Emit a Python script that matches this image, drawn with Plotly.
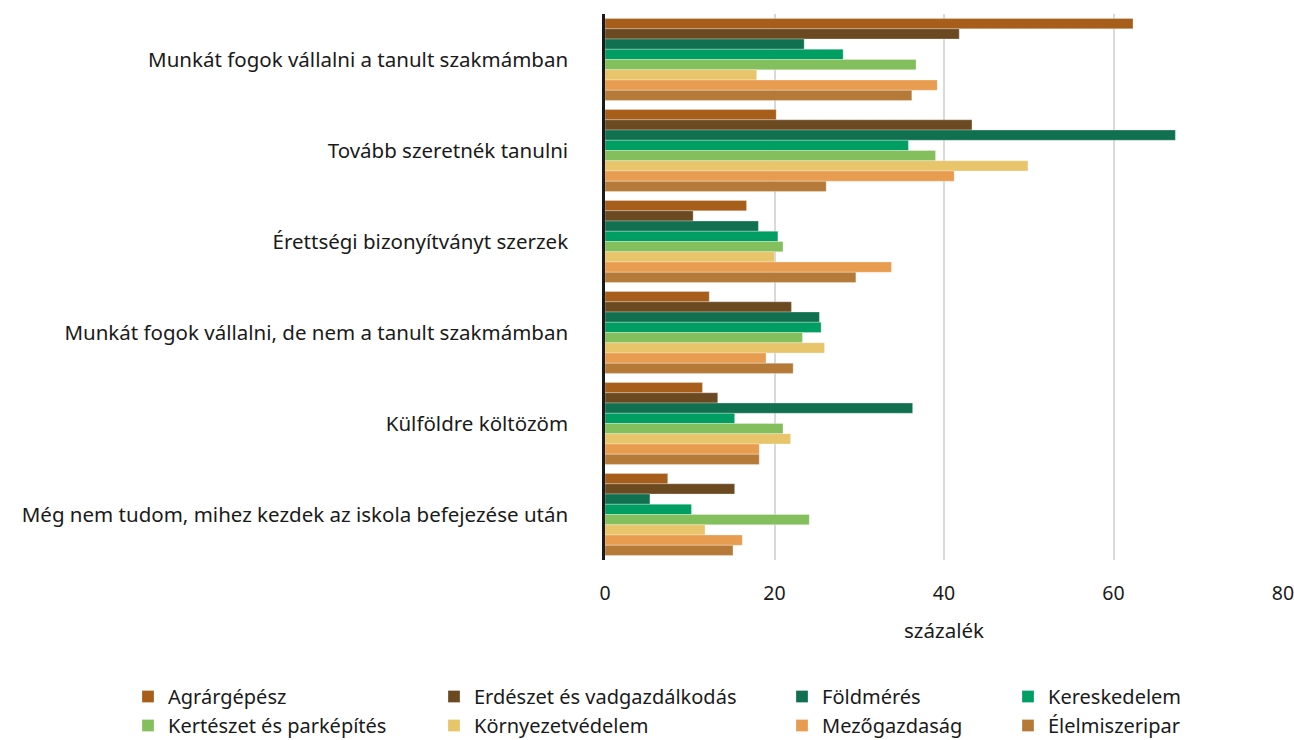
import plotly.graph_objects as go

# Answer categories (top to bottom)
categories = [
    "Munkát fogok vállalni a tanult szakmámban",
    "Tovább szeretnék tanulni",
    "Érettségi bizonyítványt szerzek",
    "Munkát fogok vállalni, de nem a tanult szakmámban",
    "Külföldre költözöm",
    "Még nem tudom, mihez kezdek az iskola befejezése után",
]

# Share of students per training field, percent
agrargepesz = [62.3, 20.2, 16.7, 12.3, 11.5, 7.4]
erdeszet = [41.8, 43.3, 10.4, 22.0, 13.3, 15.3]
foldmeres = [23.5, 67.3, 18.1, 25.3, 36.3, 5.3]
kereskedelem = [28.1, 35.8, 20.4, 25.5, 15.3, 10.2]
kerteszet = [36.7, 39.0, 21.0, 23.3, 21.0, 24.1]
kornyezetvedelem = [17.9, 49.9, 20.0, 25.9, 21.9, 11.8]
mezogazdasag = [39.2, 41.2, 33.8, 19.0, 18.2, 16.2]
elelmiszeripar = [36.2, 26.1, 29.6, 22.2, 18.2, 15.1]

series_names = [
    "Agrárgépész", "Erdészet és vadgazdálkodás", "Földmérés", "Kereskedelem",
    "Kertészet és parképítés", "Környezetvédelem", "Mezőgazdaság", "Élelmiszeripar",
]
series_values = [agrargepesz, erdeszet, foldmeres, kereskedelem,
                 kerteszet, kornyezetvedelem, mezogazdasag, elelmiszeripar]
colors = ["#A65E1A", "#6B4A22", "#117050", "#009E63",
          "#83BF5D", "#E8C46B", "#E89C50", "#B57A38"]

x_ticks = [0, 20, 40, 60, 80]

# legend columns: two entries per column, four columns
legend_ids = ["legend", "legend2", "legend3", "legend4",
              "legend", "legend2", "legend3", "legend4"]

FONT = "Noto Sans"
FS = 20.5
TXT = "#1a1a1a"

fig = go.Figure()
for name, vals, col, lg in zip(series_names, series_values, colors, legend_ids):
    fig.add_trace(go.Bar(
        y=categories, x=vals, name=name, orientation="h",
        marker=dict(color=col, line=dict(color="rgba(255,255,255,0.35)", width=0.8)),
        legend=lg, legendgroup=name,
    ))

L, R, T, B = 605, 11, 14, 180
W, H = 1294, 740
pw, ph = W - L - R, H - T - B

def px_x(px):
    return (px - L) / pw

def px_y(py):
    return (H - B - py) / ph

legend_common = dict(
    orientation="v", yanchor="top", xanchor="left",
    font=dict(family=FONT, size=20, color=TXT),
    bgcolor="rgba(0,0,0,0)", tracegroupgap=0, itemwidth=30,
)
legend_lefts = [128, 434, 782, 1008]
legend_top = 677

layout_legends = {}
for i, lid in enumerate(["legend", "legend2", "legend3", "legend4"]):
    layout_legends[lid] = dict(legend_common, x=px_x(legend_lefts[i]), y=px_y(legend_top))

fig.update_layout(
    width=W, height=H,
    margin=dict(l=L, r=R, t=T, b=B, pad=0, autoexpand=False),
    barmode="group", bargap=0.1, bargroupgap=0,
    plot_bgcolor="white", paper_bgcolor="white",
    font=dict(family=FONT, size=FS, color=TXT),
    showlegend=True,
    **layout_legends,
)

fig.update_xaxes(
    range=[0, 80], tickvals=x_ticks, ticktext=[str(v) for v in x_ticks],
    showgrid=True, gridcolor="#d9d9d9", gridwidth=1.5,
    zeroline=False, showline=False, ticks="", automargin=False,
    ticklabelstandoff=19, ticklabeloverflow="allow",
    tickfont=dict(family=FONT, size=19.5, color=TXT),
    title=dict(text="százalék", standoff=19, font=dict(family=FONT, size=FS, color=TXT)),
)
fig.update_yaxes(
    autorange="reversed", showgrid=False, zeroline=False,
    showline=True, linecolor="#1a1a1a", linewidth=2.5,
    ticks="", ticklabelstandoff=30, automargin=False,
    tickfont=dict(family=FONT, size=FS, color=TXT),
)

fig.write_html("out.html")
